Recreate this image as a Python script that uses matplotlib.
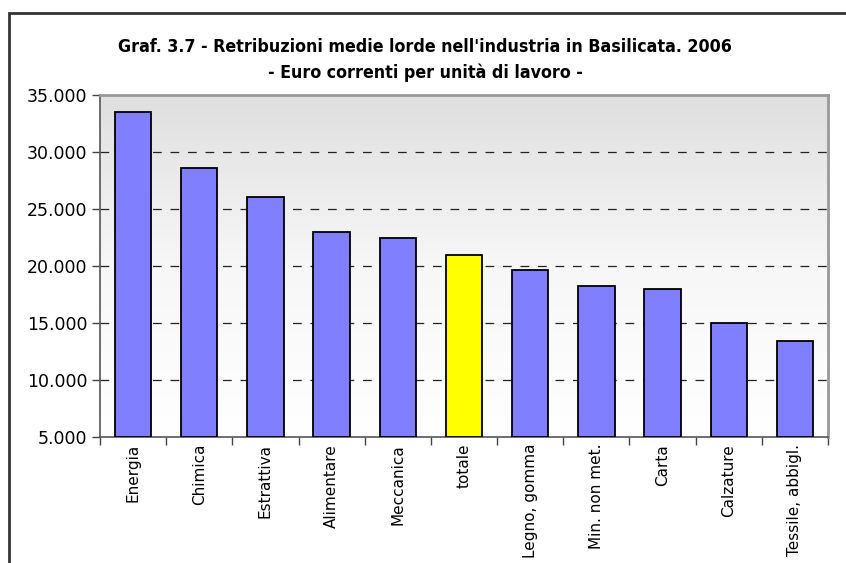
import matplotlib.pyplot as plt
import numpy as np
from matplotlib.patches import Rectangle
from matplotlib.ticker import FuncFormatter, FixedLocator

# Dati del grafico
settori = ["Energia", "Chimica", "Estrattiva", "Alimentare", "Meccanica", "totale",
           "Legno, gomma", "Min. non met.", "Carta", "Calzature", "Tessile, abbigl."]
retribuzioni = [33530, 28600, 26050, 22940, 22500, 21000, 19680, 18250, 17950, 14980, 13430]
evidenziato = "totale"

y_ticks = [5000, 10000, 15000, 20000, 25000, 30000, 35000]
titolo = "Graf. 3.7 - Retribuzioni medie lorde nell'industria in Basilicata. 2006\n- Euro correnti per unità di lavoro -"

fig = plt.figure(figsize=(8.46, 5.63), dpi=100)
ax = fig.add_axes([100 / 846, 1 - 437 / 563, 728 / 846, 342 / 563])

# Sfondo sfumato (grigio in alto, bianco in basso)
grad = np.linspace(0, 1, 256).reshape(-1, 1)
ax.imshow(grad, cmap=plt.matplotlib.colors.LinearSegmentedColormap.from_list(
    "sf", ["#ffffff", "#f7f7f7", "#dfdfdf"]), extent=[-0.5, len(settori) - 0.5, 5000, 35000],
    origin="lower", aspect="auto", zorder=0)

x = np.arange(len(settori))
colori = ["#ffff00" if s == evidenziato else "#8080ff" for s in settori]
ax.bar(x, [v - 5000 for v in retribuzioni], bottom=5000, width=0.55, color=colori,
       edgecolor="black", linewidth=1.3, zorder=3)

ax.set_xlim(-0.5, len(settori) - 0.5)
ax.set_ylim(5000, 35000)

for g in y_ticks[1:-1]:
    ax.axhline(g, color="#222222", linewidth=0.9, linestyle=(0, (7, 7)), zorder=1)

ax.set_yticks(y_ticks)
ax.yaxis.set_major_formatter(FuncFormatter(lambda v, p: f"{int(v):,}".replace(",", ".")))
ax.tick_params(axis="y", labelsize=12.5, length=6, width=1, color="#444444", pad=3)

ax.xaxis.set_major_locator(FixedLocator(np.arange(-0.5, len(settori), 1.0)))
ax.xaxis.set_minor_locator(FixedLocator(x))
ax.set_xticklabels([], minor=False)
ax.set_xticklabels(settori, minor=True, rotation=90, fontsize=11)
ax.tick_params(axis="x", which="major", length=6, width=1, color="#444444")
ax.tick_params(axis="x", which="minor", length=0, pad=5)

for lato in ["left", "bottom"]:
    ax.spines[lato].set_color("#555555")
    ax.spines[lato].set_linewidth(1.2)
for lato in ["top", "right"]:
    ax.spines[lato].set_color("#999999")
    ax.spines[lato].set_linewidth(2)

fig.text(425 / 846, 1 - 60 / 563, titolo, ha="center", va="center", fontsize=12.8,
         fontweight="bold", fontstretch="condensed", linespacing=1.5,
         family="DejaVu Sans")

# Cornice esterna
fig.patches.append(Rectangle((9 / 846, -0.1), 1.2, 1 - 13 / 563 + 0.1, transform=fig.transFigure,
                             fill=False, edgecolor="#333333", linewidth=2))

fig.savefig("out.png", dpi=100)
